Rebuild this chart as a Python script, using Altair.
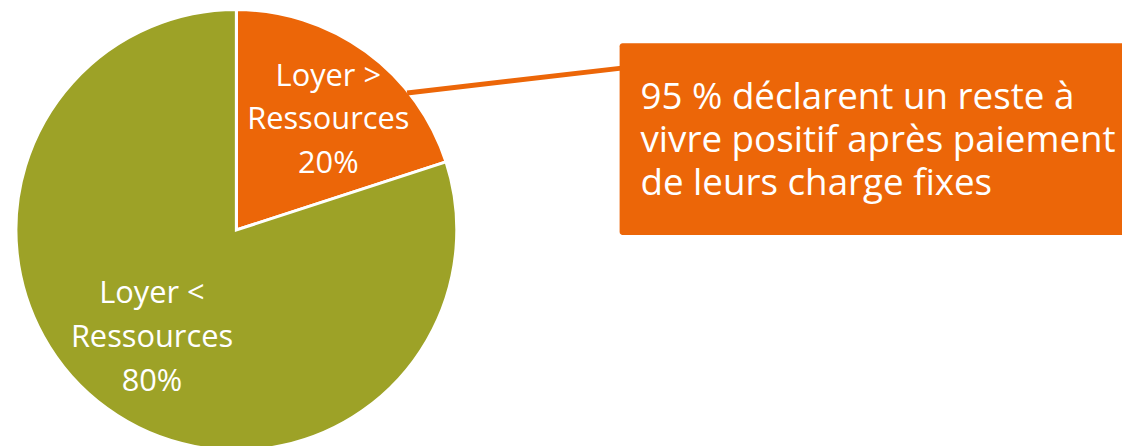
import altair as alt
import pandas as pd

# ---- data ----
categories = ["Loyer > Ressources", "Loyer < Ressources"]
shares = [20, 80]
slice_labels = ["Loyer >\nRessources\n20%", "Loyer <\nRessources\n80%"]
callout_lines = ["95 % déclarent un reste à",
                 "vivre positif après paiement",
                 "de leurs charge fixes"]

ORANGE = "#EC6608"
OLIVE = "#9DA227"
FONT = "Open Sans"

pie_df = pd.DataFrame({
    "cat": categories,
    "share": shares,
    "label": slice_labels,
    "idx": list(range(len(categories))),
})
callout_df = pd.DataFrame({"text": ["\n".join(callout_lines)]})

cx, cy, R = 230, 222, 222

base = alt.Chart(pie_df)

pie = base.mark_arc(radius=R, stroke="white", strokeWidth=3).encode(
    theta=alt.Theta("share:Q", stack=True),
    color=alt.Color("cat:N", scale=alt.Scale(domain=categories, range=[ORANGE, OLIVE]), legend=None),
    order=alt.Order("idx:O"),
    x=alt.value(cx),
    y=alt.value(cy),
)


def slice_label(i, radius, theta_off):
    return base.mark_text(
        radius=radius, thetaOffset=theta_off, font=FONT, fontSize=31, color="white",
        lineBreak="\n", lineHeight=44, align="center", baseline="middle", dy=-44,
    ).encode(
        theta=alt.Theta("share:Q", stack=True),
        order=alt.Order("idx:O"),
        text="label:N",
        opacity=alt.condition(alt.datum.idx == i, alt.value(1), alt.value(0)),
        x=alt.value(cx),
        y=alt.value(cy),
    )


label_a = slice_label(0, 144, 0.07)
label_b = slice_label(1, 138, 0.035)

callout = alt.Chart(callout_df)

box = callout.mark_rect(color=ORANGE, cornerRadius=3).encode(
    x=alt.value(616), x2=alt.value(1140),
    y=alt.value(34), y2=alt.value(227),
)

connector = callout.mark_rule(color=ORANGE, strokeWidth=5).encode(
    x=alt.value(402), y=alt.value(84),
    x2=alt.value(618), y2=alt.value(59),
)

callout_text = callout.mark_text(
    font=FONT, fontSize=37, color="white", lineBreak="\n", lineHeight=43.5,
    align="left", baseline="alphabetic",
).encode(
    text="text:N",
    x=alt.value(637),
    y=alt.value(100),
)

chart = alt.layer(pie, label_a, label_b, connector, box, callout_text).properties(
    width=1122, height=438, padding=0, autosize=alt.AutoSizeParams(type="none"),
).configure_view(stroke=None)

chart.save("out.html", embed_options={"renderer": "svg", "actions": False})
